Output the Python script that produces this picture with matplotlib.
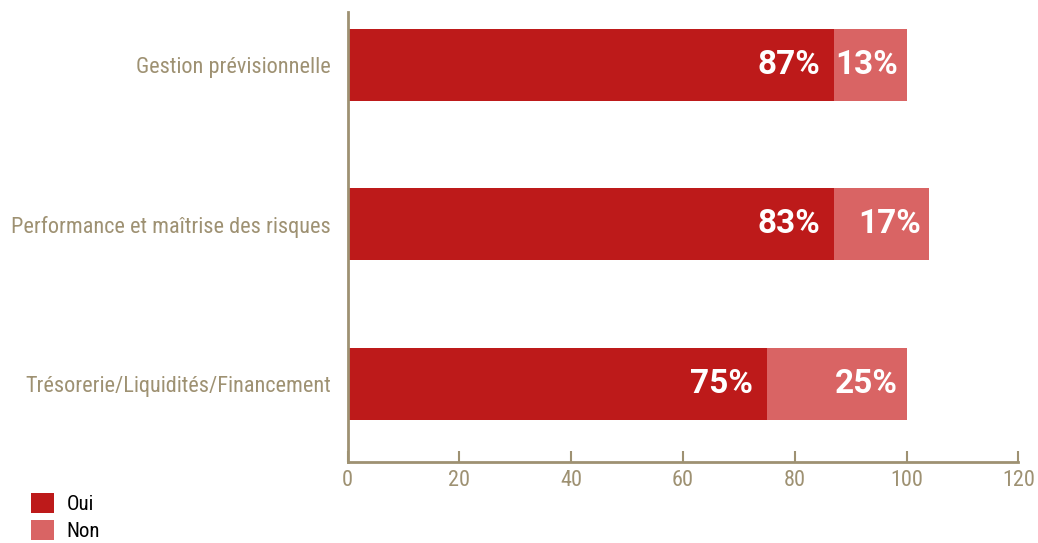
import matplotlib
matplotlib.use('Agg')
import matplotlib.pyplot as plt
import numpy as np

# Data (bar lengths as drawn in the original, labels as printed)
categories = ['Trésorerie/Liquidités/Financement',
              'Performance et maîtrise des risques',
              'Gestion prévisionnelle']
oui_vals = [75, 87, 87]
non_vals = [25, 17, 13]
oui_labels = ['75%', '83%', '87%']
non_labels = ['25%', '17%', '13%']
x_ticks = [0, 20, 40, 60, 80, 100, 120]

# Style
plt.rcParams['font.family'] = ['Roboto Condensed', 'DejaVu Sans']
axis_col = '#9E9172'
oui_col = '#BD1A1A'
non_col = '#D96464'

fig = plt.figure(figsize=(10.38, 5.43), dpi=100)
ax = fig.add_axes([0.335, 0.149, 0.646, 0.829])

y = np.arange(len(categories))
h = 0.45
ax.barh(y, oui_vals, height=h, color=oui_col, label='Oui')
ax.barh(y, non_vals, left=oui_vals, height=h, color=non_col, label='Non')

# value labels inside the bars
lab_kw = dict(textcoords='offset points', ha='right', va='center', color='white',
              fontsize=24, fontweight='bold', family=['Roboto', 'DejaVu Sans'])
for i in range(len(categories)):
    ax.annotate(oui_labels[i], (oui_vals[i], y[i]), xytext=(-10, 0), **lab_kw)
    ax.annotate(non_labels[i], (oui_vals[i] + non_vals[i], y[i]), xytext=(-6, 0), **lab_kw)

ax.set_xlim(0, 120)
ax.set_ylim(-0.49, 2.33)
ax.set_xticks(x_ticks)
ax.set_yticks(y)
ax.set_yticklabels(categories)

for s in ['top', 'right']:
    ax.spines[s].set_visible(False)
for s in ['left', 'bottom']:
    ax.spines[s].set_color(axis_col)
    ax.spines[s].set_linewidth(2)

ax.tick_params(axis='x', direction='in', length=8, width=1.5, color=axis_col,
               labelcolor=axis_col, labelsize=16, pad=6)
ax.tick_params(axis='y', length=0, labelcolor=axis_col, labelsize=16, pad=12)

fig.legend(loc='lower left', bbox_to_anchor=(0.022, -0.012), frameon=False,
           fontsize=15, handlelength=1.1, handleheight=1.1, handletextpad=0.6,
           labelspacing=0.3, borderaxespad=0)

fig.savefig('out.png', dpi=100)
